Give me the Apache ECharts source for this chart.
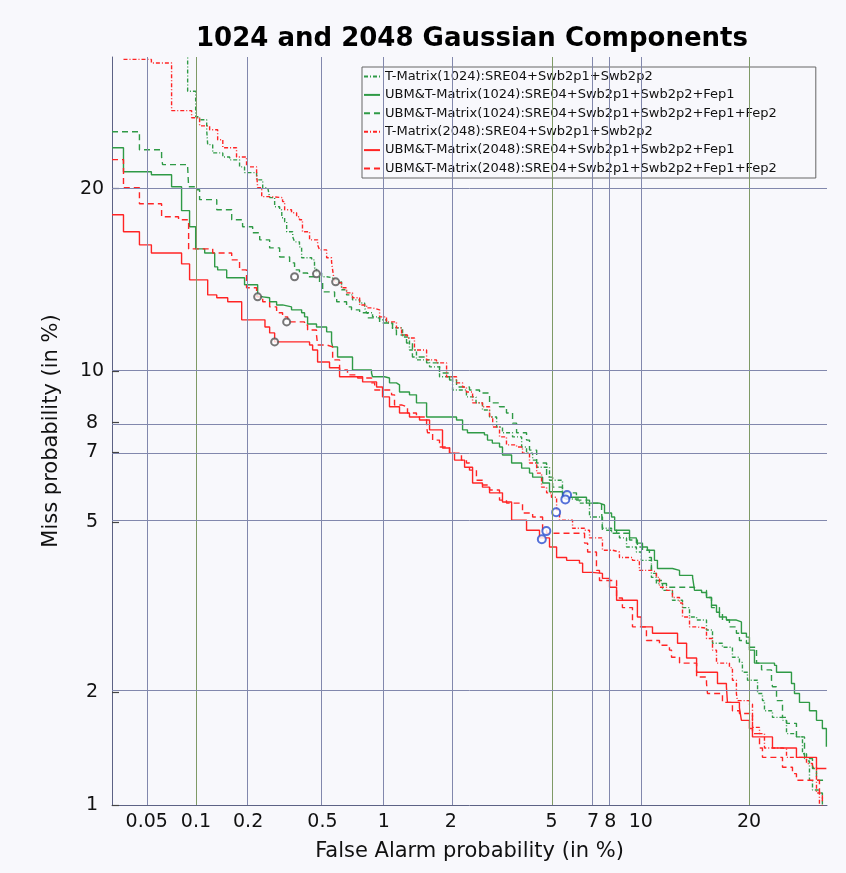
<!DOCTYPE html>
<html>
<head>
<meta charset="utf-8">
<script src="https://cdn.jsdelivr.net/npm/echarts@6/dist/echarts.min.js"></script>
<style>
html,body{margin:0;padding:0;background:#f8f8fc;}
#chart{width:846px;height:873px;}
</style>
</head>
<body>
<div id="chart"></div>
<script>
// ---- data (values in %) ----
const seriesNames = [
  'T-Matrix(1024):SRE04+Swb2p1+Swb2p2',
  'UBM&T-Matrix(1024):SRE04+Swb2p1+Swb2p2+Fep1',
  'UBM&T-Matrix(1024):SRE04+Swb2p1+Swb2p2+Fep1+Fep2',
  'T-Matrix(2048):SRE04+Swb2p1+Swb2p2',
  'UBM&T-Matrix(2048):SRE04+Swb2p1+Swb2p2+Fep1',
  'UBM&T-Matrix(2048):SRE04+Swb2p1+Swb2p2+Fep1+Fep2'
];
const xTicks = [0.05, 0.1, 0.2, 0.5, 1, 2, 5, 7, 8, 10, 20];
const yTicks = [1, 2, 5, 7, 8, 10, 20];

const tmat1024 = [[0.0892,32],[0.0892,27.2],[0.0996,25.2],[0.1051,24.97],[0.1157,24.2],[0.1173,23.1],[0.1255,22.5],[0.1436,22.2],[0.1573,22.0],[0.179,21.5],[0.191,21.1],[0.223,20.6],[0.241,20.06],[0.257,19.93],[0.263,19.4],[0.280,18.8],[0.298,18.6],[0.306,18.1],[0.317,17.84],[0.325,17.22],[0.350,16.91],[0.358,16.61],[0.380,16.31],[0.390,15.67],[0.440,15.55],[0.455,15.09],[0.466,14.81],[0.495,14.6],[0.525,14.54],[0.563,14.43],[0.596,14.32],[0.624,13.89],[0.661,13.62],[0.707,13.36],[0.766,13.2],[0.810,12.95],[0.828,12.7],[0.884,12.5],[0.955,12.35],[1.029,12.2],[1.098,11.96],[1.222,11.53],[1.314,10.93],[1.413,10.49],[1.616,10.19],[1.787,9.77],[2.034,9.23],[2.327,8.96],[2.55,8.73],[2.71,8.46],[2.895,8.2],[3.09,7.84],[3.26,7.64],[3.57,7.5],[3.87,7.16],[4.04,6.96],[4.26,6.74],[4.41,6.52],[4.92,6.13],[5.48,5.77],[5.67,5.6],[6.29,5.49],[6.81,5.13],[7.53,4.85],[8.07,4.73],[8.56,4.62],[9.02,4.41],[9.69,4.30],[10.04,4.12],[10.78,3.77],[11.16,3.65],[11.64,3.52],[12.45,3.34],[13.31,3.21],[13.93,3.05],[14.58,3.00],[15.52,2.84],[16.11,2.64],[17.12,2.58],[18.17,2.44],[18.93,2.37],[19.26,2.24],[19.83,2.14],[20.99,1.98],[21.57,1.90],[21.81,1.79],[22.78,1.72],[24.03,1.69],[24.54,1.56],[25.83,1.53],[26.63,1.38],[27.17,1.32],[27.57,1.17],[27.98,1.10],[28.94,1.08],[29.35,0.95]];

const ubm1024 = [[0.03,22.87],[0.0356,21.16],[0.0535,20.95],[0.0713,20.13],[0.082,18.55],[0.0916,17.53],[0.0996,16.19],[0.1126,15.95],[0.1289,15.15],[0.1341,14.98],[0.1512,14.54],[0.191,14.16],[0.226,13.52],[0.241,13.47],[0.263,13.26],[0.287,13.10],[0.309,13.0],[0.345,12.85],[0.390,12.7],[0.404,12.5],[0.419,12.15],[0.466,12.0],[0.525,11.77],[0.556,11.3],[0.563,11.07],[0.596,10.62],[0.707,10.06],[0.874,9.93],[0.884,9.77],[1.008,9.72],[1.063,9.52],[1.145,9.44],[1.183,9.15],[1.314,9.04],[1.413,8.73],[1.568,8.2],[2.114,8.09],[2.242,7.74],[2.35,7.64],[2.76,7.57],[2.84,7.39],[2.97,7.29],[3.173,7.16],[3.26,6.9],[3.54,6.65],[3.87,6.49],[4.146,6.34],[4.26,6.22],[4.64,6.05],[4.92,5.8],[5.48,5.65],[6.65,5.49],[7.36,5.44],[7.65,5.23],[8.07,5.13],[8.26,4.80],[9.22,4.62],[9.69,4.5],[10.12,4.41],[10.48,4.34],[11.01,4.12],[11.24,3.95],[12.45,3.91],[13.05,3.81],[14.21,3.77],[14.39,3.52],[15.05,3.48],[15.52,3.39],[16.01,3.25],[16.51,3.13],[16.81,3.05],[17.53,3.00],[18.6,2.97],[19.15,2.79],[19.71,2.73],[20.05,2.54],[20.63,2.36],[23.03,2.33],[23.28,2.24],[25.18,2.10],[25.57,1.98],[26.23,1.88],[27.57,1.79],[28.53,1.69],[29.35,1.61],[29.91,1.44]];

const ubmFep2_1024 = [[0.03,24.06],[0.045,22.73],[0.0619,22.2],[0.0628,21.66],[0.0892,21.5],[0.0904,20.13],[0.101,19.93],[0.1051,19.27],[0.1325,18.61],[0.1615,17.97],[0.1862,17.53],[0.212,17.16],[0.232,16.73],[0.263,16.25],[0.298,15.72],[0.337,15.38],[0.358,14.98],[0.380,14.81],[0.419,14.6],[0.483,14.27],[0.501,13.78],[0.576,13.52],[0.590,13.26],[0.661,13.0],[0.699,12.85],[0.766,12.7],[0.837,12.45],[0.955,12.2],[1.098,11.86],[1.145,11.62],[1.274,11.25],[1.355,10.62],[1.568,10.36],[1.787,9.93],[1.974,9.64],[2.114,9.35],[2.396,9.23],[2.636,9.11],[2.895,8.73],[3.173,8.58],[3.38,8.35],[3.57,7.98],[3.70,7.64],[4.04,7.39],[4.146,7.06],[4.41,6.65],[4.80,6.22],[5.05,5.93],[5.48,5.77],[6.14,5.57],[6.81,5.49],[7.48,5.31],[7.53,4.80],[8.38,4.73],[9.22,4.57],[9.76,4.41],[10.12,4.34],[10.63,4.18],[10.78,3.85],[11.16,3.71],[11.64,3.65],[11.96,3.58],[14.39,3.52],[15.52,3.39],[16.01,3.21],[16.81,3.13],[17.12,3.00],[17.85,2.89],[18.6,2.79],[18.93,2.68],[19.71,2.64],[20.05,2.58],[20.87,2.36],[21.46,2.27],[22.66,2.14],[22.78,2.06],[23.28,1.90],[24.03,1.72],[24.54,1.66],[25.83,1.53],[26.9,1.34],[27.98,1.26],[28.53,1.17],[29.91,1.17]];

const tmat2048 = [[0.0356,29.8],[0.0535,29.5],[0.0713,25.67],[0.0942,25.12],[0.1051,24.5],[0.1204,24.21],[0.1341,23.46],[0.1436,22.87],[0.1721,22.2],[0.196,21.5],[0.223,21.1],[0.226,20.06],[0.238,19.47],[0.263,19.4],[0.309,19.14],[0.317,18.61],[0.345,18.42],[0.367,18.16],[0.380,17.97],[0.394,17.22],[0.429,16.73],[0.472,16.43],[0.483,16.13],[0.525,15.67],[0.556,15.44],[0.563,14.98],[0.576,14.27],[0.624,14.0],[0.661,13.73],[0.707,13.47],[0.766,13.1],[0.828,12.95],[0.884,12.85],[0.955,12.5],[1.029,12.25],[1.145,11.96],[1.209,11.62],[1.287,11.48],[1.384,10.93],[1.568,10.49],[1.734,10.36],[1.917,9.77],[2.114,9.52],[2.242,9.35],[2.327,9.15],[2.468,8.73],[2.71,8.58],[2.895,8.2],[2.98,7.84],[3.173,7.5],[3.38,7.23],[3.70,7.16],[3.90,6.96],[4.146,6.65],[4.41,6.34],[4.60,5.93],[4.80,5.77],[5.0,5.65],[5.22,5.31],[5.348,5.05],[5.95,4.85],[6.55,4.80],[6.81,4.62],[7.53,4.34],[8.13,4.30],[8.56,4.18],[9.42,4.12],[9.90,3.91],[10.86,3.87],[11.16,3.77],[11.40,3.58],[11.96,3.52],[12.45,3.39],[13.05,3.29],[13.31,3.05],[13.93,2.89],[14.58,2.87],[15.52,2.71],[16.11,2.54],[16.51,2.36],[17.85,2.30],[18.17,2.14],[18.6,1.98],[18.71,1.90],[20.05,1.86],[20.40,1.62],[21.22,1.56],[21.81,1.43],[24.03,1.42],[24.54,1.35],[26.63,1.35],[27.17,1.30],[27.98,1.27],[28.53,1.08],[28.94,0.98]];

const ubm2048 = [[0.03,18.29],[0.0356,17.22],[0.045,16.43],[0.0535,15.95],[0.082,15.32],[0.0916,14.43],[0.1173,13.62],[0.1325,13.47],[0.1533,13.26],[0.184,12.35],[0.248,12.0],[0.263,11.72],[0.280,11.3],[0.429,11.16],[0.445,10.93],[0.472,10.4],[0.543,10.15],[0.610,9.77],[0.792,9.56],[0.924,9.35],[0.986,8.96],[1.063,8.58],[1.183,8.35],[1.314,8.2],[1.458,8.09],[1.616,7.74],[1.841,7.13],[1.974,6.96],[2.073,6.74],[2.286,6.52],[2.468,6.05],[2.71,5.93],[2.895,5.77],[3.26,5.52],[3.54,5.05],[4.04,4.80],[4.519,4.62],[4.92,4.41],[5.22,4.18],[5.67,4.12],[6.29,4.06],[6.45,3.87],[6.97,3.85],[7.53,3.75],[7.95,3.58],[8.38,3.34],[9.76,3.05],[10.04,2.89],[10.86,2.79],[12.88,2.64],[13.67,2.43],[14.58,2.24],[16.61,2.10],[17.53,2.06],[17.64,1.88],[18.93,1.82],[19.15,1.69],[20.05,1.61],[20.40,1.53],[22.78,1.43],[25.83,1.35],[28.53,1.26],[29.91,1.26]];

const ubmFep2_2048 = [[0.03,22.02],[0.0356,20.06],[0.045,19.0],[0.0619,18.16],[0.0786,17.97],[0.0904,16.19],[0.1255,15.95],[0.1615,15.55],[0.179,14.98],[0.196,14.0],[0.223,13.52],[0.241,13.26],[0.263,13.0],[0.287,12.7],[0.309,12.5],[0.329,12.25],[0.404,12.1],[0.419,11.86],[0.466,11.62],[0.472,11.16],[0.525,11.07],[0.563,10.49],[0.610,10.06],[0.668,9.85],[0.749,9.72],[0.874,9.52],[0.905,9.23],[1.087,9.04],[1.122,8.65],[1.209,8.58],[1.287,8.35],[1.413,8.2],[1.568,7.84],[1.584,7.64],[1.667,7.39],[1.787,7.16],[1.974,6.96],[2.218,6.74],[2.327,6.65],[2.396,6.43],[2.56,6.13],[2.71,5.99],[2.895,5.85],[3.173,5.57],[3.38,5.49],[3.90,5.23],[4.26,5.13],[4.64,4.80],[4.80,4.73],[6.55,4.50],[6.71,4.30],[7.19,3.91],[7.36,3.71],[8.38,3.38],[8.75,3.21],[9.42,2.89],[10.41,2.68],[11.40,2.61],[12.20,2.54],[12.37,2.44],[13.05,2.36],[14.58,2.18],[15.52,2.10],[15.62,1.98],[17.12,1.88],[18.17,1.79],[18.93,1.76],[20.40,1.56],[21.22,1.43],[21.57,1.35],[24.03,1.27],[25.31,1.22],[25.83,1.17],[28.94,1.08],[29.35,0.98]];

// operating points marked with circles
const minDcfPoints = [[0.466,14.76],[0.583,14.32],[0.358,14.6],[0.226,13.52],[0.325,12.25],[0.280,11.3]];
const eerPoints = [[5.69,5.71],[5.61,5.59],[5.20,5.25],[4.79,4.78],[4.61,4.59]];

// ---- normal deviate (DET) scale ----
function probit(p){
  const a=[-3.969683028665376e+01,2.209460984245205e+02,-2.759285104469687e+02,1.383577518672690e+02,-3.066479806614716e+01,2.506628277459239e+00];
  const b=[-5.447609879822406e+01,1.615858368580409e+02,-1.556989798598866e+02,6.680131188771972e+01,-1.328068155288572e+01];
  const c=[-7.784894002430293e-03,-3.223964580411365e-01,-2.400758277161838e+00,-2.549732539343734e+00,4.374664141464968e+00,2.938163982698783e+00];
  const d=[7.784695709041462e-03,3.224671290700398e-01,2.445134137142996e+00,3.754408661907416e+00];
  const pl=0.02425, ph=1-pl; let q,r;
  if(p<pl){q=Math.sqrt(-2*Math.log(p));return (((((c[0]*q+c[1])*q+c[2])*q+c[3])*q+c[4])*q+c[5])/((((d[0]*q+d[1])*q+d[2])*q+d[3])*q+1);}
  if(p<=ph){q=p-0.5;r=q*q;return (((((a[0]*r+a[1])*r+a[2])*r+a[3])*r+a[4])*r+a[5])*q/(((((b[0]*r+b[1])*r+b[2])*r+b[3])*r+b[4])*r+1);}
  q=Math.sqrt(-2*Math.log(1-p));return -(((((c[0]*q+c[1])*q+c[2])*q+c[3])*q+c[4])*q+c[5])/((((d[0]*q+d[1])*q+d[2])*q+d[3])*q+1);
}
const T = v => probit(v/100);
const toDet = arr => arr.map(([x,y]) => [T(x), T(y)]);
function labelFor(ticks){
  return function(val){
    for (const t of ticks){ if (Math.abs(T(t)-val) < 1e-6) return String(t); }
    return '';
  };
}

const GREEN = '#2f9a46', RED = '#ff2424';
const FONT = 'DejaVu Sans';
const styles = [
  {color: GREEN, type: [4,2,1,2]},
  {color: GREEN, type: 'solid'},
  {color: GREEN, type: [6,4]},
  {color: RED, type: [4,2,1,2]},
  {color: RED, type: 'solid'},
  {color: RED, type: [6,4]}
];
const dataSets = [tmat1024, ubm1024, ubmFep2_1024, tmat2048, ubm2048, ubmFep2_2048];

const gridBlue = '#8288ad', gridGreen = '#7f9a66';
const vGreen = [0.1, 5, 20];
const vLines = xTicks.map(t => ({xAxis: T(t), lineStyle: {color: vGreen.includes(t) ? gridGreen : gridBlue, width: 1, type: 'solid'}}));
const hLines = yTicks.filter(t => t > 1).map(t => ({yAxis: T(t), lineStyle: {color: gridBlue, width: 1, type: 'solid'}}));

const series = [{
  type: 'line', data: [], silent: true, z: 1,
  markLine: {silent: true, symbol: 'none', label: {show: false}, animation: false, data: vLines.concat(hLines)}
}];
dataSets.forEach((ds, i) => {
  series.push({
    name: seriesNames[i], type: 'line', step: 'end', symbol: 'none', showSymbol: false, clip: true, z: 3,
    data: toDet(ds),
    lineStyle: {color: styles[i].color, width: 1.4, type: styles[i].type},
    itemStyle: {color: styles[i].color},
    animation: false
  });
});
series.push({type: 'scatter', data: toDet(minDcfPoints), symbol: 'emptyCircle', symbolSize: 7,
  itemStyle: {color: '#555', borderColor: '#555', borderWidth: 0.9}, z: 4, animation: false, silent: true});
series.push({type: 'scatter', data: toDet(eerPoints), symbol: 'emptyCircle', symbolSize: 8,
  itemStyle: {color: '#2c4fd0', borderColor: '#2c4fd0', borderWidth: 1}, z: 4, animation: false, silent: true});

const chart = echarts.init(document.getElementById('chart'), null, {renderer: 'canvas'});
chart.setOption({
  backgroundColor: '#f8f8fc',
  animation: false,
  title: {
    text: '1024 and 2048 Gaussian Components', left: 191, top: 21,
    textStyle: {fontFamily: FONT, fontSize: 26, fontWeight: 'bold', color: '#000'}
  },
  legend: {
    data: seriesNames, orient: 'vertical', left: 362, top: 67,
    itemWidth: 16, itemHeight: 14, itemGap: 5.4,
    padding: [3, 39, 3, 1],
    itemStyle: {opacity: 0},
    backgroundColor: '#f8f8fc', borderColor: '#666', borderWidth: 1,
    textStyle: {fontFamily: FONT, fontSize: 13, color: '#111'}
  },
  grid: {left: 112, right: 19, top: 57, bottom: 68, containLabel: false},
  xAxis: {
    type: 'value', min: T(0.03), max: T(30),
    name: 'False Alarm probability (in %)', nameLocation: 'middle', nameGap: 36,
    nameTextStyle: {fontFamily: FONT, fontSize: 21, color: '#111'},
    axisLine: {show: true, lineStyle: {color: '#5d6285', width: 1}},
    axisTick: {show: false},
    splitLine: {show: false},
    axisLabel: {customValues: xTicks.map(T), formatter: labelFor(xTicks), margin: 8,
      fontFamily: FONT, fontSize: 19, color: '#111'}
  },
  yAxis: {
    type: 'value', min: T(1), max: T(30),
    name: 'Miss probability (in %)', nameLocation: 'middle', nameGap: 50,
    nameTextStyle: {fontFamily: FONT, fontSize: 21, color: '#111'},
    axisLine: {show: true, lineStyle: {color: '#5d6285', width: 1}},
    axisTick: {show: true, inside: true, length: 7, customValues: yTicks.map(T), lineStyle: {color: '#444', width: 1.2}},
    splitLine: {show: false},
    axisLabel: {customValues: yTicks.map(T), formatter: labelFor(yTicks), margin: 20, align: 'center',
      fontFamily: FONT, fontSize: 19, color: '#111'}
  },
  series: series
});
</script>
</body>
</html>
